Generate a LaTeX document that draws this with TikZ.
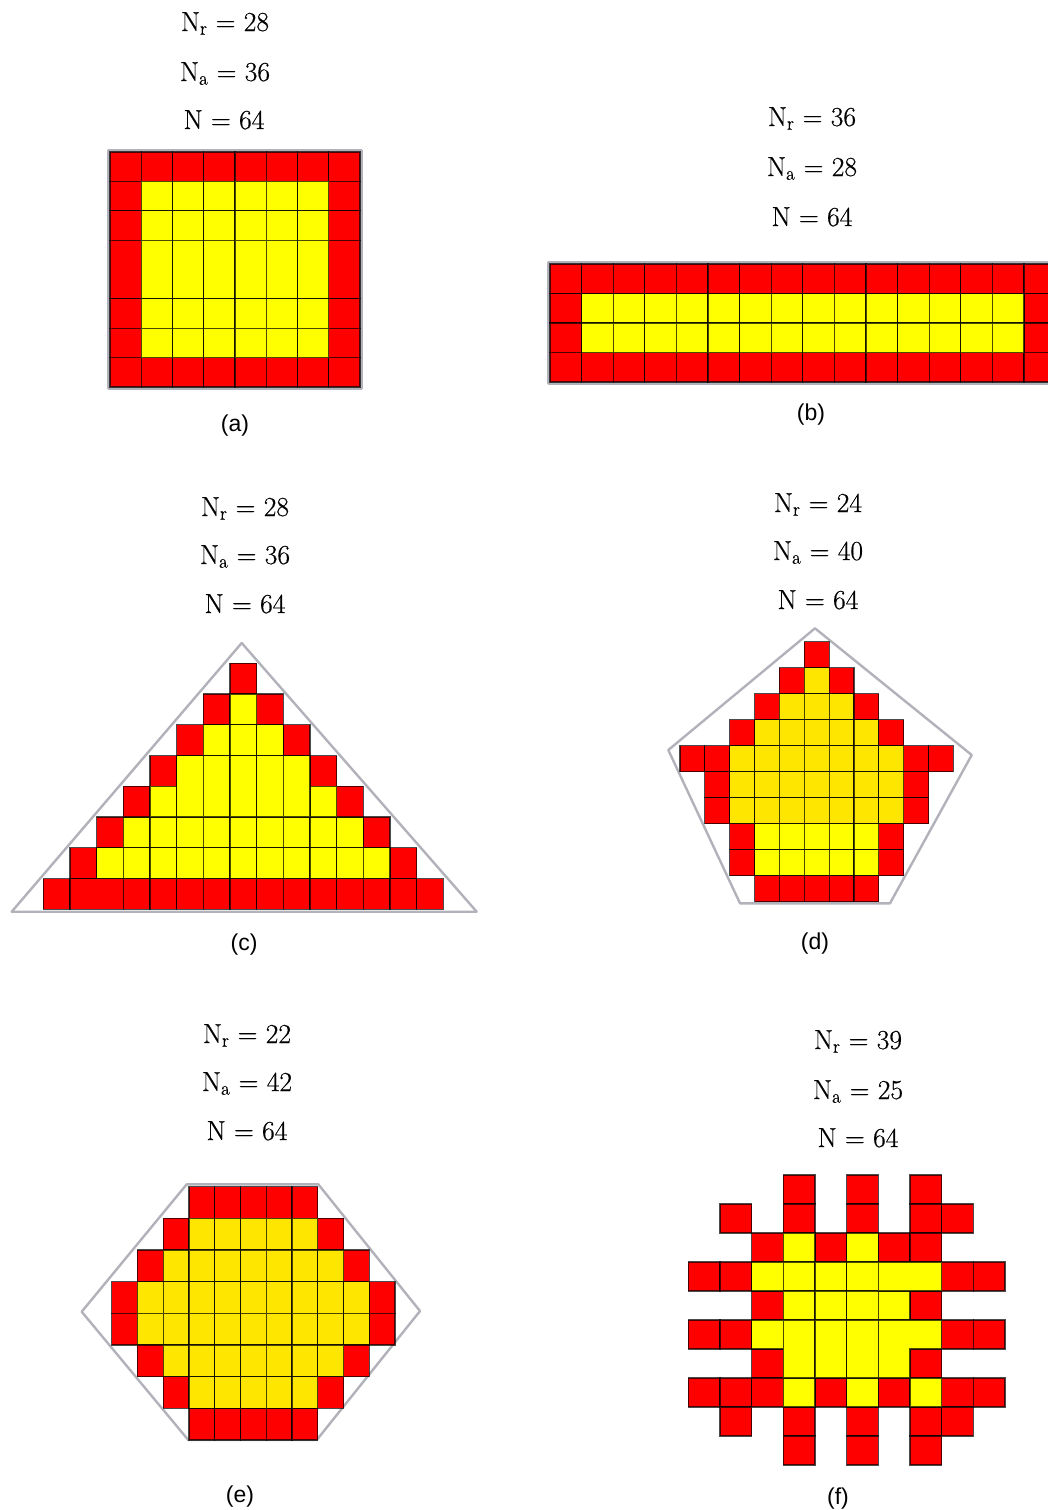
\documentclass[tikz,border=0pt]{standalone}
\usepackage{fontspec}
\newfontfamily\capfam{Liberation Sans}
\newfontfamily\lblfam[FakeBold=0.5]{Latin Modern Roman}
\definecolor{cred}{RGB}{255,0,0}
\definecolor{cyel}{RGB}{255,255,0}
\definecolor{cgold}{RGB}{255,230,0}
\definecolor{cgrey}{RGB}{178,178,186}
\newcommand\lblfont{\lblfam\fontsize{27.5}{32}\selectfont}
\newcommand\capfont{\capfam\fontsize{23}{28}\selectfont}
\tikzset{
  cellbase/.style={draw=black, draw opacity=0.7, line width=1.2pt},
  cr/.style={cellbase, fill=cred},
  cy/.style={cellbase, fill=cyel},
  cg/.style={cellbase, fill=cgold},
  outl/.style={draw=cgrey, line width=2.4pt, line join=round},
  lbl/.style={font=\lblfont, anchor=base, inner sep=0pt},
  captxt/.style={font=\capfont, anchor=base, inner sep=0pt}
}
\begin{document}
\begin{tikzpicture}[x=1pt,y=-1pt]
\useasboundingbox (0,0) rectangle (1048,1510);
\clip (0,0) rectangle (1048,1510);
\fill[white] (0,0) rectangle (1048,1510);

% ---------------- (a) ----------------
\node[lbl] (a1) at (225,31) {N\textsubscript{r} = 28};
\node[lbl] (a2) at (225,81) {N\textsubscript{a} = 36};
\node[lbl] (a3) at (224,129) {N = 64};
\draw[outl] (108.5,150.5) rectangle (361.5,388.5);
\begin{scope}[shift={(110,152)}, x={(31.25pt,0pt)}, y={(0pt,-29.375pt)}]
  \foreach \c in {0,...,7} {\path[cr] (\c,0) rectangle ++(1,1); \path[cr] (\c,7) rectangle ++(1,1);}
  \foreach \r/\hh in {1/1,2/1,3/2,5/1,6/1} {
    \path[cr] (0,\r) rectangle ++(1,\hh);
    \path[cr] (7,\r) rectangle ++(1,\hh);
    \foreach \c in {1,...,6} {\path[cy] (\c,\r) rectangle ++(1,\hh);}
  }
\end{scope}
\node[captxt] (capa) at (235,431) {(a)};

% ---------------- (b) ----------------
\node[lbl] (b1) at (812,126) {N\textsubscript{r} = 36};
\node[lbl] (b2) at (812,176) {N\textsubscript{a} = 28};
\node[lbl] (b3) at (812,226) {N = 64};
\draw[outl] (548.5,262.5) rectangle (1062,383.5);
\begin{scope}[shift={(550,264)}, x={(31.6pt,0pt)}, y={(0pt,-29.5pt)}]
  \foreach \c in {0,...,15} {\path[cr] (\c,0) rectangle ++(1,1); \path[cr] (\c,3) rectangle ++(1,1);}
  \foreach \r in {1,2} {
    \path[cr] (0,\r) rectangle ++(1,1);
    \path[cr] (15,\r) rectangle ++(1,1);
    \foreach \c in {1,...,14} {\path[cy] (\c,\r) rectangle ++(1,1);}
  }
\end{scope}
\node[captxt] (capb) at (811,420) {(b)};

% ---------------- (c) ----------------
\node[lbl] (c1) at (245,516) {N\textsubscript{r} = 28};
\node[lbl] (c2) at (245,564) {N\textsubscript{a} = 36};
\node[lbl] (c3) at (245,613) {N = 64};
\draw[outl] (241.7,643) -- (476.7,911.7) -- (11.7,911.7) -- cycle;
\begin{scope}[shift={(43.33,663.33)}, x={(26.67pt,0pt)}, y={(0pt,-30.75pt)}]
  \path[cr] (7,0) rectangle ++(1,1);
  \foreach \r in {1,2,5,6} {
    \pgfmathtruncatemacro\lo{7-\r}
    \pgfmathtruncatemacro\hi{7+\r}
    \pgfmathtruncatemacro\ya{8-\r}
    \pgfmathtruncatemacro\yb{6+\r}
    \path[cr] (\lo,\r) rectangle ++(1,1);
    \path[cr] (\hi,\r) rectangle ++(1,1);
    \foreach \c in {\ya,...,\yb} {\path[cy] (\c,\r) rectangle ++(1,1);}
  }
  \path[cr] (4,3) rectangle ++(1,1);
  \path[cr] (10,3) rectangle ++(1,1);
  \path[cr] (3,4) rectangle ++(1,1);
  \path[cr] (11,4) rectangle ++(1,1);
  \path[cy] (4,4) rectangle ++(1,1);
  \path[cy] (10,4) rectangle ++(1,1);
  \foreach \c in {5,...,9} {\path[cy] (\c,3) rectangle ++(1,2);}
  \path[cr] (0,7) rectangle ++(1,1);
  \path[cr] (1,7) rectangle ++(2,1);
  \foreach \c in {3,...,14} {\path[cr] (\c,7) rectangle ++(1,1);}
\end{scope}
\node[captxt] (capc) at (244,950) {(c)};

% ---------------- (d) ----------------
\node[lbl] (d1) at (818,512) {N\textsubscript{r} = 24};
\node[lbl] (d2) at (818,560) {N\textsubscript{a} = 40};
\node[lbl] (d3) at (818,609) {N = 64};
\draw[outl] (815,628.3) -- (971.7,755) -- (890,903.3) -- (740,903.3) -- (668.3,750) -- cycle;
\begin{scope}[shift={(680,641.7)}, x={(24.85pt,0pt)}, y={(0pt,-26pt)}]
  \path[cr] (5,0) rectangle ++(1,1);
  \path[cr] (4,1) rectangle ++(1,1); \path[cg] (5,1) rectangle ++(1,1); \path[cr] (6,1) rectangle ++(1,1);
  \path[cr] (3,2) rectangle ++(1,1); \foreach \c in {4,...,6} {\path[cg] (\c,2) rectangle ++(1,1);} \path[cr] (7,2) rectangle ++(1,1);
  \path[cr] (2,3) rectangle ++(1,1); \foreach \c in {3,...,7} {\path[cg] (\c,3) rectangle ++(1,1);} \path[cr] (8,3) rectangle ++(1,1);
  \foreach \c in {0,1,9,10} {\path[cr] (\c,4) rectangle ++(1,1);}
  \foreach \c in {2,...,8} {\path[cg] (\c,4) rectangle ++(1,1);}
  \foreach \r in {5,6} {
    \path[cr] (1,\r) rectangle ++(1,1); \path[cr] (9,\r) rectangle ++(1,1);
    \foreach \c in {2,...,8} {\path[cg] (\c,\r) rectangle ++(1,1);}
  }
  \foreach \r in {7,8} {
    \path[cr] (2,\r) rectangle ++(1,1); \path[cr] (8,\r) rectangle ++(1,1);
    \foreach \c in {3,...,7} {\path[cy] (\c,\r) rectangle ++(1,1);}
  }
  \foreach \c in {3,...,7} {\path[cr] (\c,9) rectangle ++(1,1);}
\end{scope}
\node[captxt] (capd) at (815,949) {(d)};

% ---------------- (e) ----------------
\node[lbl] (e1) at (247,1043) {N\textsubscript{r} = 22};
\node[lbl] (e2) at (247,1091) {N\textsubscript{a} = 42};
\node[lbl] (e3) at (247,1140) {N = 64};
\draw[outl] (186.7,1184.3) -- (318.3,1184.3) -- (420,1311) -- (316.7,1440) -- (188.3,1440) -- (81.7,1311.7) -- cycle;
\begin{scope}[shift={(111.7,1186.7)}, x={(25.76pt,0pt)}, y={(0pt,-31.67pt)}]
  \foreach \c in {3,...,7} {\path[cr] (\c,0) rectangle ++(1,1); \path[cr] (\c,7) rectangle ++(1,1);}
  \foreach \r/\lo/\hi in {1/2/8,2/1/9,3/0/10,4/0/10,5/1/9,6/2/8} {
    \path[cr] (\lo,\r) rectangle ++(1,1);
    \path[cr] (\hi,\r) rectangle ++(1,1);
    \pgfmathtruncatemacro\ya{\lo+1}
    \pgfmathtruncatemacro\yb{\hi-1}
    \foreach \c in {\ya,...,\yb} {\path[cg] (\c,\r) rectangle ++(1,1);}
  }
\end{scope}
\node[captxt] (cape) at (240,1502) {(e)};

% ---------------- (f) ----------------
\node[lbl] (f1) at (858,1049) {N\textsubscript{r} = 39};
\node[lbl] (f2) at (858,1099) {N\textsubscript{a} = 25};
\node[lbl] (f3) at (858,1147) {N = 64};
\begin{scope}[shift={(688.3,1175)}, x={(31.67pt,0pt)}, y={(0pt,-29pt)}]
  \foreach \c/\r in {3/0,5/0,7/0, 1/1,3/1,5/1,7/1,8/1, 2/2,4/2,6/2,7/2, 0/3,1/3,8/3,9/3,
                     2/4,7/4, 0/5,1/5,8/5,9/5, 2/6,7/6, 0/7,1/7,2/7,4/7,6/7,8/7,9/7,
                     1/8,3/8,5/8,7/8,8/8, 3/9,5/9,7/9}
    {\path[cr] (\c,\r) rectangle ++(1,1);}
  \foreach \c/\r in {3/2,5/2, 2/3,3/3,4/3,5/3, 3/4,4/4,5/4,6/4, 2/5, 3/7,5/7,7/7}
    {\path[cy] (\c,\r) rectangle ++(1,1);}
  \path[cy] (6,3) rectangle ++(2,1);
  \foreach \c in {3,4,5} {\path[cy] (\c,5) rectangle ++(1,2);}
  \path[cy] (6,5) -- (8,5) -- (8,6) -- (7,6) -- (7,7) -- (6,7) -- cycle;
\end{scope}
\node[captxt] (capf) at (838,1504) {(f)};
\end{tikzpicture}
\end{document}
